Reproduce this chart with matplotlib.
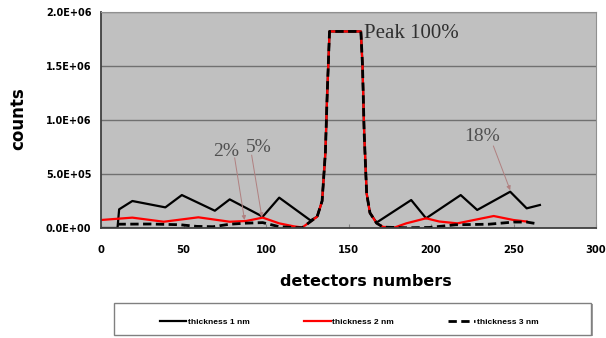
import matplotlib.pyplot as plt
from matplotlib.patches import Rectangle
import numpy as np

# detector numbers / counts
x_thick1 = [0, 10, 11, 19, 39, 49, 69, 78, 98, 108, 127, 131, 134, 136, 137, 138.5,
            157.5, 158.5, 159.5, 161, 163, 167, 188, 197, 218, 228, 248, 258, 266]
y_thick1 = [0, 0, 173e3, 250e3, 191e3, 305e3, 160e3, 265e3, 105e3, 281e3, 70e3, 105e3,
            250e3, 700e3, 1.2e6, 1.82e6, 1.82e6, 1.5e6, 0.88e6, 0.32e6, 0.14e6, 50e3,
            259e3, 90e3, 305e3, 167e3, 336e3, 182e3, 213e3]

x_thick2 = [0, 19, 38, 59, 78, 88, 98, 108, 117, 122, 127, 131, 134, 136, 137, 138.5,
            157.5, 158.5, 159.5, 161, 163, 167, 171, 178, 185, 197, 205, 216, 238, 250, 258]
y_thick2 = [74e3, 96e3, 58e3, 99e3, 58e3, 65e3, 96e3, 43e3, 15e3, 5e3, 60e3, 105e3,
            250e3, 700e3, 1.2e6, 1.82e6, 1.82e6, 1.5e6, 0.88e6, 0.32e6, 0.14e6, 45e3,
            10e3, 5e3, 43e3, 90e3, 60e3, 43e3, 111e3, 74e3, 60e3]

x_thick3 = [10, 30, 48, 58, 68, 78, 88, 98, 108, 117, 122, 127, 131, 134, 136, 137, 138.5,
            157.5, 158.5, 159.5, 161, 163, 167, 171, 185, 199, 215, 235, 250, 258, 264]
y_thick3 = [35e3, 37e3, 30e3, 15e3, 12e3, 35e3, 45e3, 50e3, 12e3, 4e3, 3e3, 60e3, 105e3,
            250e3, 700e3, 1.2e6, 1.82e6, 1.82e6, 1.5e6, 0.88e6, 0.32e6, 0.14e6, 45e3,
            8e3, 2e3, 5e3, 30e3, 35e3, 55e3, 55e3, 40e3]

labels = ["thickness 1 nm", "thickness 2 nm", "thickness 3 nm"]
yticks = [0, 5e5, 1e6, 1.5e6, 2e6]
ytick_labels = ["0.0E+00", "5.0E+05", "1.0E+06", "1.5E+06", "2.0E+06"]
xticks = [0, 50, 100, 150, 200, 250, 300]

# annotations: text, text centre, arrow start, arrow tip
notes = [("2%", (76, 7.05e5), (81, 6.5e5), (87, 7.4e4)),
         ("5%", (95.5, 7.45e5), (91.3, 6.75e5), (97.5, 1.0e5)),
         ("18%", (231, 8.45e5), (237.8, 7.6e5), (248, 3.5e5))]

plt.rcParams['font.family'] = ['Liberation Sans', 'DejaVu Sans']

fig = plt.figure(figsize=(6.06, 3.38), dpi=100)
ax = fig.add_axes([101 / 606, 1 - 228 / 338, 495 / 606, 216 / 338])
ax.set_facecolor('#c0c0c0')

l1, = ax.plot(x_thick1, y_thick1, color='black', lw=1.6, label=labels[0])
l2, = ax.plot(x_thick2, y_thick2, color='#ff0000', lw=1.6, label=labels[1])
l3, = ax.plot(x_thick3, y_thick3, color='black', lw=2.0, ls=(0, (3, 1.6)), label=labels[2])

ax.set_xlim(0, 300)
ax.set_ylim(0, 2e6)
ax.set_yticks(yticks)
ax.set_yticklabels(ytick_labels)
ax.set_xticks(xticks)
ax.yaxis.grid(True, color='#707070', lw=1)
ax.set_axisbelow(True)
ax.tick_params(axis='y', length=0, pad=7, labelsize=7)
ax.tick_params(axis='x', direction='in', length=3, color='#808080', pad=12, labelsize=7.2)
for t in ax.get_xticklabels() + ax.get_yticklabels():
    t.set_fontweight('bold')
    t.set_family('DejaVu Sans')
for s in ['top', 'right']:
    ax.spines[s].set_color('#909090')
for s in ['left', 'bottom']:
    ax.spines[s].set_color('#404040')
    ax.spines[s].set_linewidth(1.3)

for txt, pos, start, tip in notes:
    ax.text(pos[0], pos[1], txt, fontsize=14, family='Liberation Serif',
            color='#505050', ha='center', va='center')
    ax.annotate("", xy=tip, xytext=start,
                arrowprops=dict(arrowstyle='-|>', color='#b08080', lw=0.7,
                                mutation_scale=6, shrinkA=0, shrinkB=0))
ax.text(159.5, 1.80e6, "Peak 100%", fontsize=15, family='Liberation Serif',
        color='#303030', ha='left', va='center')

fig.text(18 / 606, 1 - 119 / 338, "counts", rotation=90, fontsize=12,
         fontweight='bold', family='DejaVu Sans', ha='center', va='center')
fig.text(366 / 606, 1 - 281 / 338, "detectors numbers", fontsize=11.5,
         fontweight='bold', family='DejaVu Sans', ha='center', va='center')

# legend frame with light shadow
fig.patches.append(Rectangle((116 / 606, 2 / 338), 477 / 606, 32 / 338,
                             transform=fig.transFigure, facecolor='#a0a0a0',
                             edgecolor='none', zorder=0))
fig.patches.append(Rectangle((114 / 606, 3 / 338), 477 / 606, 32 / 338,
                             transform=fig.transFigure, facecolor='white',
                             edgecolor='#808080', lw=1, zorder=1))
leg = fig.legend(handles=[l1, l2, l3], loc='center', ncol=3,
                 bbox_to_anchor=(349 / 606, 1 - 322 / 338), frameon=False,
                 prop={'size': 6, 'weight': 'bold'}, handlelength=3.2,
                 handletextpad=0.2, columnspacing=6.5)
leg.set_zorder(5)

fig.savefig("out.png", dpi=100)
